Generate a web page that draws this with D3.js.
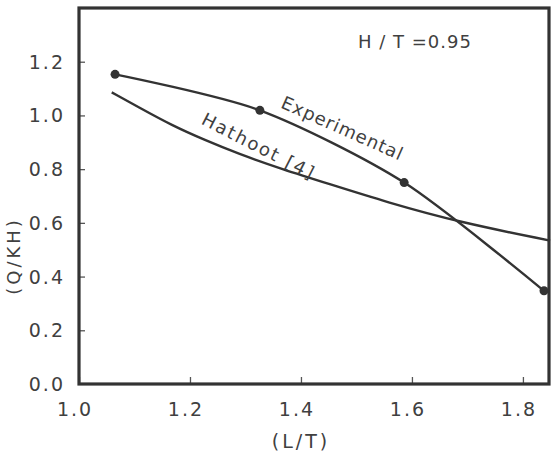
<!DOCTYPE html>
<html>
<head>
<meta charset="utf-8">
<script src="https://cdn.jsdelivr.net/npm/d3@7"></script>
<style>
	body { margin: 0; background: #fff; }
	svg text { font-family: "DejaVu Sans", sans-serif; fill: #404040; }
</style>
</head>
<body>
<div id="chart"></div>
<script>
// data
let expX = [1.065, 1.326, 1.586, 1.838];
let expY = [1.153, 1.019, 0.750, 0.347];

let hatX = [1.059, 1.106, 1.168, 1.227, 1.286, 1.366, 1.452, 1.555, 1.686, 1.849];
let hatY = [1.086, 1.032, 0.962, 0.908, 0.858, 0.800, 0.744, 0.677, 0.602, 0.534];

let xTicks = [1.0, 1.2, 1.4, 1.6, 1.8];
let yTicks = [0.0, 0.2, 0.4, 0.6, 0.8, 1.0, 1.2];

let W = 551, H = 459;
let margin = { top: 8, right: 2, bottom: 75, left: 79 };

let svg = d3.select('#chart').append('svg')
	.attr('width', W)
	.attr('height', H);

let x = d3.scaleLinear()
	.domain([1.0, 1.847])
	.range([margin.left, W - margin.right]);

let y = d3.scaleLinear()
	.domain([0, 1.40])
	.range([H - margin.bottom, margin.top]);

let ink = '#333';

// axes, ticks pointing inward
let xAxis = d3.axisTop(x)
	.tickValues(xTicks)
	.tickSize(7)
	.tickFormat('');

let yAxis = d3.axisRight(y)
	.tickValues(yTicks.filter(function(d) { return d > 0 }))
	.tickSize(6)
	.tickFormat('');

svg.append('g')
	.attr('transform', 'translate(0,' + y(0) + ')')
	.call(xAxis)
	.call(function(g) { g.select('.domain').remove() })
	.selectAll('line').attr('stroke', '#555').attr('stroke-width', 1.3);

svg.append('g')
	.attr('transform', 'translate(' + x(1.0) + ',0)')
	.call(yAxis)
	.call(function(g) { g.select('.domain').remove() })
	.selectAll('line').attr('stroke', '#555').attr('stroke-width', 1.3);

// frame
svg.append('rect')
	.attr('x', x(1.0))
	.attr('y', y(1.40))
	.attr('width', x(1.847) - x(1.0))
	.attr('height', y(0) - y(1.40))
	.attr('fill', 'none')
	.attr('stroke', ink)
	.attr('stroke-width', 3.2);

// tick labels
svg.selectAll('.xlab')
	.data(xTicks)
	.enter().append('text').classed('xlab', true)
	.attr('x', function(d) { return x(d) - 4 })
	.attr('y', y(0) + 32)
	.attr('text-anchor', 'middle')
	.attr('font-size', 19)
	.attr('letter-spacing', 2)
	.text(function(d) { return d.toFixed(1) });

svg.selectAll('.ylab')
	.data(yTicks)
	.enter().append('text').classed('ylab', true)
	.attr('x', x(1.0) - 14)
	.attr('y', function(d) { return y(d) + 7 })
	.attr('text-anchor', 'end')
	.attr('font-size', 19)
	.attr('letter-spacing', 2)
	.text(function(d) { return d.toFixed(1) });

// axis titles
svg.append('text')
	.attr('x', 301)
	.attr('y', 448)
	.attr('text-anchor', 'middle')
	.attr('font-size', 19)
	.attr('letter-spacing', 3)
	.text('(L/T)');

svg.append('text')
	.attr('transform', 'translate(20,256) rotate(-90)')
	.attr('text-anchor', 'middle')
	.attr('font-size', 18)
	.attr('letter-spacing', 3)
	.text('(Q/KH)');

svg.append('text')
	.attr('x', 358)
	.attr('y', 48)
	.attr('font-size', 18)
	.attr('letter-spacing', 1)
	.text('H / T =0.95');

// curves
let expLine = d3.line()
	.x(function(d) { return x(d[0]) })
	.y(function(d) { return y(d[1]) })
	.curve(d3.curveCardinal.tension(0.2));

let hatLine = d3.line()
	.x(function(d) { return x(d[0]) })
	.y(function(d) { return y(d[1]) })
	.curve(d3.curveBasis);

let expData = d3.zip(expX, expY);
let hatData = d3.zip(hatX, hatY);

svg.append('path')
	.datum(hatData)
	.attr('d', hatLine)
	.attr('fill', 'none')
	.attr('stroke', ink)
	.attr('stroke-width', 2.4);

svg.append('path')
	.datum(expData)
	.attr('d', expLine)
	.attr('fill', 'none')
	.attr('stroke', ink)
	.attr('stroke-width', 2.4);

svg.selectAll('.pt')
	.data(expData)
	.enter().append('circle').classed('pt', true)
	.attr('cx', function(d) { return x(d[0]) })
	.attr('cy', function(d) { return y(d[1]) })
	.attr('r', 4.5)
	.attr('fill', ink);

// curve labels
svg.append('text')
	.attr('transform', 'translate(340,134) rotate(24)')
	.attr('text-anchor', 'middle')
	.attr('font-size', 18)
	.attr('letter-spacing', 1)
	.text('Experimental');

svg.append('text')
	.attr('transform', 'translate(256,152) rotate(27)')
	.attr('text-anchor', 'middle')
	.attr('font-size', 18)
	.attr('letter-spacing', 2)
	.text('Hathoot [4]');
</script>
</body>
</html>
